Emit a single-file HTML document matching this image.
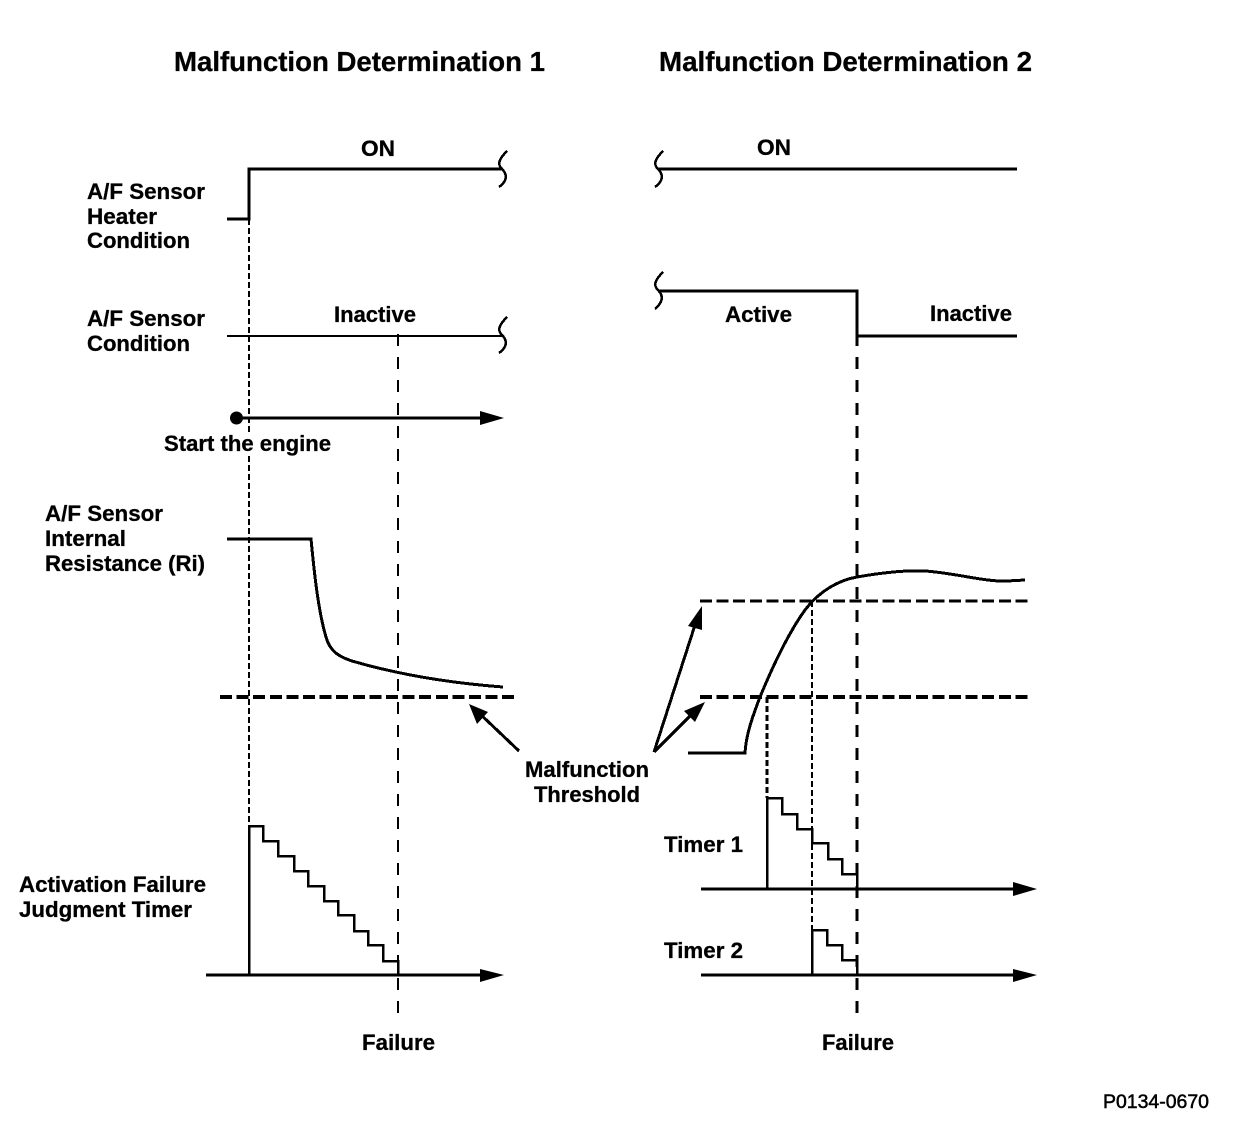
<!DOCTYPE html>
<html><head><meta charset="utf-8"><style>html,body{margin:0;padding:0;background:#fff}svg{display:block}text{font-family:"Liberation Sans",sans-serif;font-weight:bold;font-size:22px;fill:#000;stroke:#000;stroke-width:.3px}</style></head><body>
<svg width="1248" height="1126" viewBox="0 0 1248 1126" xmlns="http://www.w3.org/2000/svg">
<rect width="1248" height="1126" fill="#fff"/>
<g fill="none" stroke="#000" stroke-width="3" shape-rendering="crispEdges">
<path d="M227 219H249V169H503"/>
<path d="M227 336H503" stroke-width="2"/>
<path d="M237 418H485"/>
<path d="M227 539H311C314 570 318 610 326 637C330 652 340 657 352 661C400 675 450 683 503 687"/>
<path d="M220 697H517" stroke-width="4" stroke-dasharray="12 4.6"/>
<path d="M519 751L478 712"/>
<path d="M654 752L695 625M654 752L692 714"/>
<path d="M658 169H1017"/>
<path d="M658 291H857V336H1017"/>
<path d="M700 601H1030" stroke-dasharray="12 4.6"/>
<path d="M700 697H1030" stroke-width="4" stroke-dasharray="12 4.6"/>
<path d="M688 753H745C746 735 752 718 760 697C772 668 787 635 805 610C820 590 840 580 857 577C880 573 905 570 925 571C955 573 985 582 1007 581L1025 580"/>
<path d="M206 975H485M701 889H1016M701 975H1016"/>
<path d="M857 334V1018" stroke-dasharray="12 11"/>
<path d="M398 334V1018" stroke-width="2" stroke-dasharray="12 11"/>
<path d="M249 219V432M249 456V825" stroke-width="2" stroke-dasharray="6 3"/>
<path d="M767 697V798" stroke-width="3" stroke-dasharray="6 3"/>
<path d="M812 601V930" stroke-width="2" stroke-dasharray="6 3"/>
<path d="M249 975V826H263V841H278V856H294V871H308V886H324V901H338V915H354V931H368V945H383V961H398V975" stroke-width="2.5"/>
<path d="M767 889V798H782V814H797V829H812V843H828V859H842V874H857V889" stroke-width="2.5"/>
<path d="M812 975V930H827V945H842V960H857V975" stroke-width="2.5"/>
<g stroke-width="2.5">
<path id="s" d="M507 151C498 160 497 165 503 170C508 176 506 182 499 187"/>
<path d="M507 317C498 326 497 331 503 336C508 342 506 348 499 353"/>
<path d="M663 151C654 160 653 165 659 170C664 176 662 182 655 187"/>
<path d="M663 272C654 281 653 286 659 291C664 297 662 303 655 309"/>
</g>
</g>
<g fill="#000">
<circle cx="236.5" cy="418" r="6.5"/>
<path d="M480 411L504 418L480 425Z"/>
<path d="M480 969L504 975L480 982Z"/>
<path d="M1013 882L1037 889L1013 896Z"/>
<path d="M1013 969L1037 975L1013 982Z"/>
<path d="M469 704L488 712L477 724Z"/>
<path d="M702 606L702 630L688 626Z"/>
<path d="M705 702L695 722L684 711Z"/>
</g>
<text x="174" y="71" style="font-size:28px" textLength="371" lengthAdjust="spacingAndGlyphs">Malfunction Determination 1</text>
<text x="659" y="71" style="font-size:28px" textLength="373" lengthAdjust="spacingAndGlyphs">Malfunction Determination 2</text>
<text x="361" y="156" textLength="34" lengthAdjust="spacingAndGlyphs">ON</text>
<text x="757" y="155" textLength="34" lengthAdjust="spacingAndGlyphs">ON</text>
<text x="87" y="199" textLength="118" lengthAdjust="spacingAndGlyphs">A/F Sensor</text>
<text x="87" y="224" textLength="70" lengthAdjust="spacingAndGlyphs">Heater</text>
<text x="87" y="248" textLength="103" lengthAdjust="spacingAndGlyphs">Condition</text>
<text x="87" y="326" textLength="118" lengthAdjust="spacingAndGlyphs">A/F Sensor</text>
<text x="87" y="351" textLength="103" lengthAdjust="spacingAndGlyphs">Condition</text>
<text x="334" y="322" textLength="82" lengthAdjust="spacingAndGlyphs">Inactive</text>
<text x="725" y="322" textLength="67" lengthAdjust="spacingAndGlyphs">Active</text>
<text x="930" y="321" textLength="82" lengthAdjust="spacingAndGlyphs">Inactive</text>
<text x="164" y="451" textLength="167" lengthAdjust="spacingAndGlyphs">Start the engine</text>
<text x="45" y="521" textLength="118" lengthAdjust="spacingAndGlyphs">A/F Sensor</text>
<text x="45" y="546" textLength="81" lengthAdjust="spacingAndGlyphs">Internal</text>
<text x="45" y="571" textLength="160" lengthAdjust="spacingAndGlyphs">Resistance (Ri)</text>
<text x="525" y="777" textLength="124" lengthAdjust="spacingAndGlyphs">Malfunction</text>
<text x="534" y="802" textLength="106" lengthAdjust="spacingAndGlyphs">Threshold</text>
<text x="664" y="852" textLength="79" lengthAdjust="spacingAndGlyphs">Timer 1</text>
<text x="664" y="958" textLength="79" lengthAdjust="spacingAndGlyphs">Timer 2</text>
<text x="19" y="892" textLength="187" lengthAdjust="spacingAndGlyphs">Activation Failure</text>
<text x="19" y="917" textLength="173" lengthAdjust="spacingAndGlyphs">Judgment Timer</text>
<text x="362" y="1050" textLength="73" lengthAdjust="spacingAndGlyphs">Failure</text>
<text x="822" y="1050" textLength="72" lengthAdjust="spacingAndGlyphs">Failure</text>
<text x="1103" y="1108" style="font-size:19px;font-weight:normal;stroke-width:.5px" textLength="106" lengthAdjust="spacingAndGlyphs">P0134-0670</text>
</svg>
</body></html>
